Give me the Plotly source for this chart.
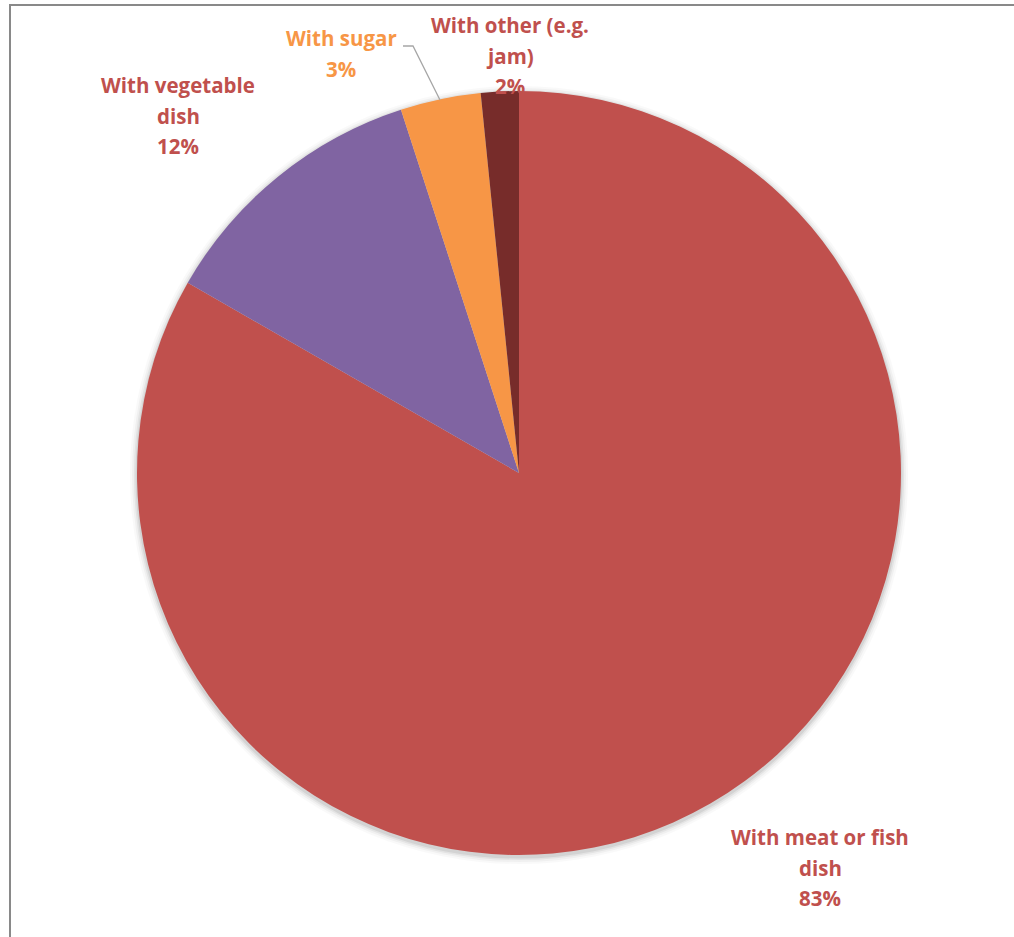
import plotly.graph_objects as go

# Share of servings by accompaniment
categories = ["With meat or fish dish", "With vegetable dish", "With sugar", "With other (e.g. jam)"]
shares = [83.3, 11.7, 3.4, 1.6]
slice_colors = ["#C0504D", "#8064A2", "#F79646", "#772C2A"]
label_colors = ["#C0504D", "#C0504D", "#F79646", "#C0504D"]
label_lines = [["With meat or fish", "dish"], ["With vegetable", "dish"], ["With sugar"], ["With other (e.g.", "jam)"]]

W, H = 1014, 937
CX, CY, R = 519, 473, 382


def px(x, y):
    return x / W, 1 - y / H


def domain(r, dx=0, dy=0):
    return dict(x=[(CX + dx - r) / W, (CX + dx + r) / W],
                y=[(H - CY - dy - r) / H, (H - CY - dy + r) / H])


fig = go.Figure()

# soft shadow under the pie
for extra, alpha in [(7, 0.025), (5, 0.035), (3, 0.05), (1.5, 0.07)]:
    fig.add_trace(go.Pie(values=[1], marker=dict(colors=[f"rgba(0,0,0,{alpha})"], line=dict(width=0)),
                         textinfo="none", hoverinfo="skip", showlegend=False, sort=False,
                         domain=domain(R + extra, 0, 2)))

fig.add_trace(go.Pie(
    labels=categories, values=shares, sort=False, direction="clockwise", rotation=0,
    marker=dict(colors=slice_colors, line=dict(width=0)),
    textinfo="none", showlegend=False, domain=domain(R),
))

# label anchors (centre of first line) and line spacing
anchors = [(820, 837), (178, 85), (341, 38), (510, 25)]
line_gap = 30.5
for name_lines, val, col, (ax, ay) in zip(label_lines, shares, label_colors, anchors):
    lines = name_lines + [f"{round(val)}%"]
    for i, t in enumerate(lines):
        x, y = px(ax, ay + i * line_gap)
        fig.add_annotation(x=x, y=y, xref="paper", yref="paper", text=f"<b>{t}</b>", showarrow=False,
                           font=dict(family="Open Sans", size=20.5, color=col), xanchor="center", yanchor="middle")

# leader line for the small sugar slice
lx = [403, 413, 440]
ly = [46, 46, 100]
path = "M " + " L ".join(f"{px(a, b)[0]} {px(a, b)[1]}" for a, b in zip(lx, ly))
fig.add_shape(type="path", path=path, xref="paper", yref="paper", line=dict(color="#A6A6A6", width=1.3))

# chart frame
x0, y0 = px(10, 5)
x1, y1 = px(1030, 960)
fig.add_shape(type="rect", x0=x0, y0=y1, x1=x1, y1=y0, xref="paper", yref="paper",
              line=dict(color="#898989", width=2))

fig.update_layout(width=W, height=H, margin=dict(l=0, r=0, t=0, b=0),
                  paper_bgcolor="white", plot_bgcolor="white")
fig.write_html("out.html")
